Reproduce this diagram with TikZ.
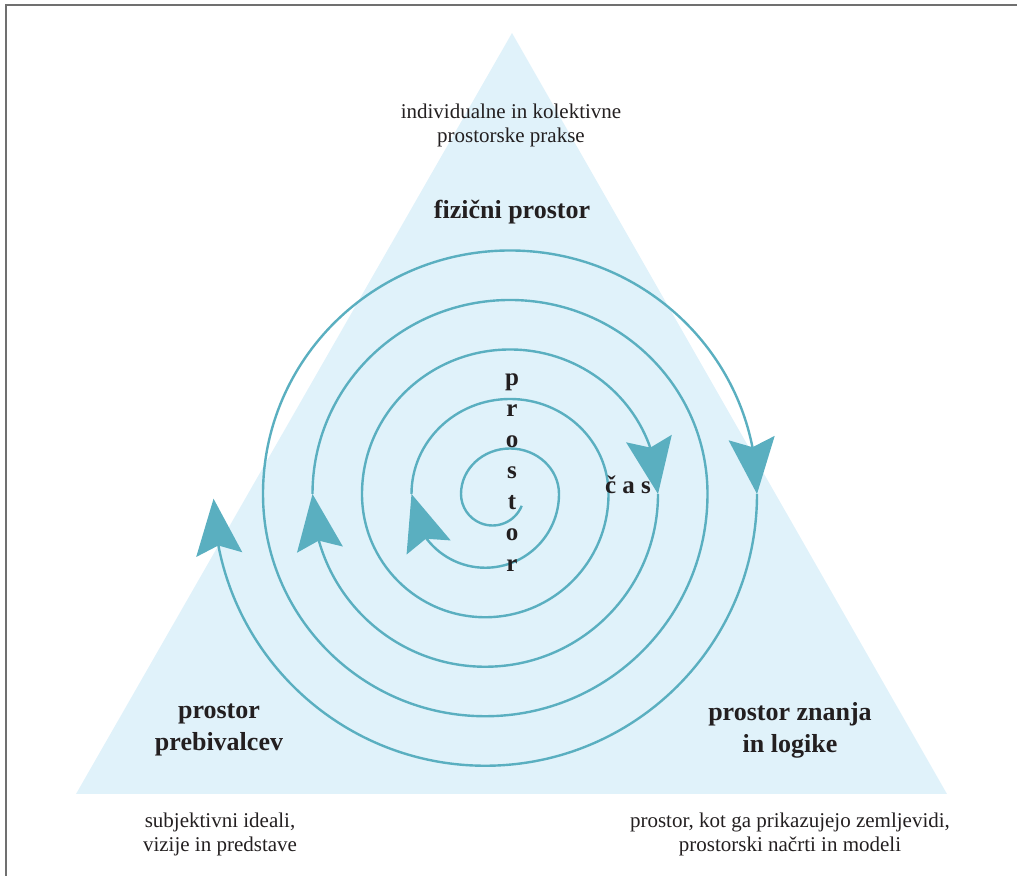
\documentclass[tikz,border=0pt]{standalone}
\usepackage{fontspec}
\setmainfont{Liberation Serif}
\usetikzlibrary{arrows.meta,bending}
\definecolor{myblue}{RGB}{224,242,250}
\definecolor{myteal}{RGB}{90,175,192}
\definecolor{mygray}{RGB}{112,112,112}
\definecolor{mytext}{RGB}{35,31,32}

\begin{document}
\begin{tikzpicture}[x=0.5pt, y=0.5pt,
spiral/.style={draw=myteal, line width=1.2pt},
flow/.style={spiral, -{Stealth[length=28pt, width=23pt, inset=4.5pt, flex]}},
small/.style={align=center, text=mytext, font=\fontsize{10.5}{12}\selectfont},
big/.style={align=center, text=mytext, font=\bfseries\fontsize{13}{16}\selectfont},
letter/.style={anchor=base, text=mytext, inner sep=0pt, font=\bfseries\fontsize{12.5}{15}\selectfont}
]
\useasboundingbox (0,0) rectangle (1017,876);
% frame and triangle
\draw[mygray, line width=1pt] (6,0) -- (6,871) -- (1017,871);
\fill[myblue] (76,82) -- (947,82) -- (512,843) -- cycle;

% spiral
\draw[spiral] (521.7,370.2) arc[start angle=-22, end angle=-180, radius=31.5];
\draw[spiral] (461,382) arc[start angle=180, end angle=0, x radius=49, y radius=45.5];
\draw[flow] (559,382) arc[start angle=0, end angle=-180, radius=73.75];
\draw[spiral] (411.5,382) arc[start angle=180, end angle=0, x radius=98.5, y radius=95];
\draw[spiral] (608.5,382) arc[start angle=0, end angle=-180, radius=123.25];
\draw[flow] (362,382) arc[start angle=180, end angle=0, x radius=148, y radius=144.5];
\draw[flow] (658,382) arc[start angle=0, end angle=-180, radius=172.75];
\draw[spiral] (312.5,382) arc[start angle=180, end angle=0, x radius=197.5, y radius=194];
\draw[spiral] (707.5,382) arc[start angle=0, end angle=-180, radius=222.25];
\draw[flow] (263,382) arc[start angle=180, end angle=0, x radius=247, y radius=243.5];
\draw[flow] (757,382) arc[start angle=0, end angle=-179, radius=271.75];

% letters
\foreach \ch [count=\i] in {p,r,o,s,t,o,r}
  \node[letter] (prostor\i) at (512, {490-31*(\i-1)}) {\ch};
\node[letter] (cas) at (628,382) {č a s};

% labels
\node[small] (praksa) at (511,751) {individualne in kolektivne\\prostorske prakse};
\node[big, anchor=base] (fizicni) at (512,657) {fizični prostor};
\node[big] (prebivalci) at (219,146) {prostor\\prebivalcev};
\node[big] (znanje) at (790,146) {prostor znanja\\in logike};
\node[small] (ideali) at (220,42) {subjektivni ideali,\\vizije in predstave};
\node[small] (modeli) at (790,42) {prostor, kot ga prikazujejo zemljevidi,\\prostorski načrti in modeli};
\end{tikzpicture}
\end{document}
